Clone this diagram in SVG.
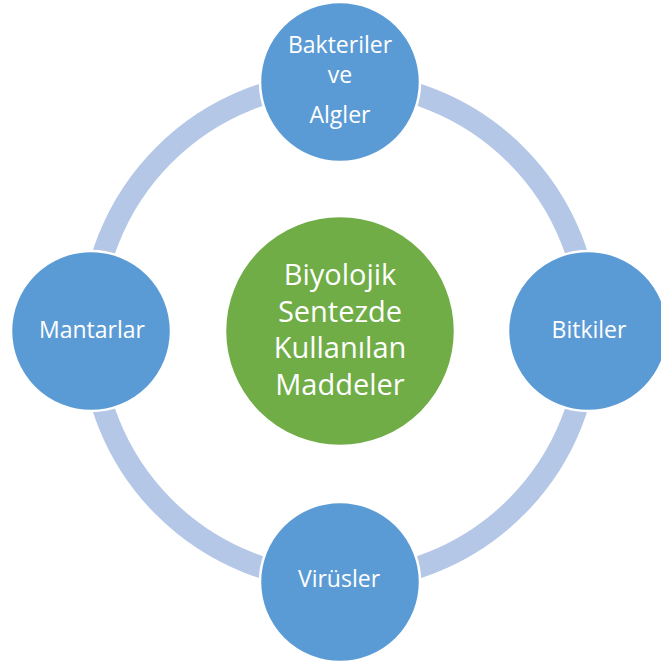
<svg xmlns="http://www.w3.org/2000/svg" width="661" height="666" viewBox="0 0 661 666">
<style>
.node{fill:#5B9BD5;stroke:#FFFFFF;stroke-width:2.5}
.center{fill:#70AD47;stroke:#FFFFFF;stroke-width:2.5}
.lbl{font-family:"Open Sans","Noto Sans",sans-serif;font-size:23px;fill:#FFFFFF;text-anchor:middle}
.clbl{font-family:"Open Sans","Noto Sans",sans-serif;font-size:29px;fill:#FFFFFF;text-anchor:middle}
</style>
<rect width="661" height="666" fill="#FFFFFF"/>
<g id="connectors">
<circle cx="340" cy="331" r="249" fill="none" stroke="#B4C7E7" stroke-width="22"/>
</g>
<g id="center">
<circle class="center" cx="340" cy="331" r="115"/>
<text class="clbl" x="340" y="285">Biyolojik</text>
<text class="clbl" x="340" y="322">Sentezde</text>
<text class="clbl" x="340" y="358">Kullanılan</text>
<text class="clbl" x="340" y="395">Maddeler</text>
</g>
<g id="bakteriler">
<circle class="node" cx="340" cy="82" r="80"/>
<text class="lbl" x="340" y="53">Bakteriler</text>
<text class="lbl" x="340" y="83">ve</text>
<text class="lbl" x="340" y="123">Algler</text>
</g>
<g id="bitkiler">
<circle class="node" cx="588" cy="331" r="80"/>
<text class="lbl" x="589" y="338">Bitkiler</text>
</g>
<g id="virusler">
<circle class="node" cx="340" cy="582" r="80"/>
<text class="lbl" x="339" y="587">Virüsler</text>
</g>
<g id="mantarlar">
<circle class="node" cx="91" cy="331" r="80"/>
<text class="lbl" x="92" y="338">Mantarlar</text>
</g>
</svg>
